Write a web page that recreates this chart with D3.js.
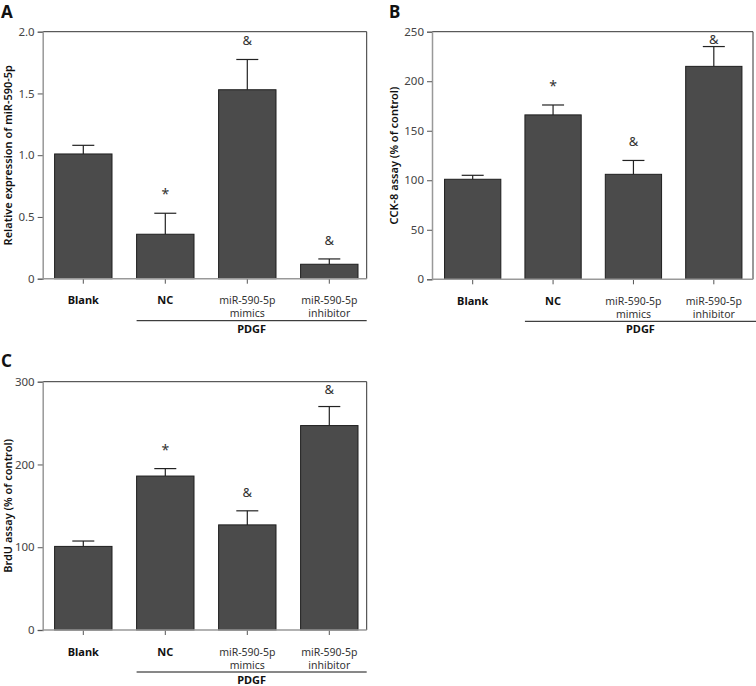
<!DOCTYPE html>
<html>
<head>
<meta charset="utf-8">
<script src="https://cdn.jsdelivr.net/npm/d3@7"></script>
<style>
  body { margin: 0; background: #fff; }
  svg { display: block; }
  text { font-family: "Noto Sans", "Open Sans", sans-serif; }
</style>
</head>
<body>
<svg id="chart" width="756" height="686"></svg>
<script>
// ---- data ----
const categories = ["Blank", "NC", "miR-590-5p mimics", "miR-590-5p inhibitor"];
const categoryLines = [["Blank"], ["NC"], ["miR-590-5p", "mimics"], ["miR-590-5p", "inhibitor"]];
const categoryBold = [true, true, false, false];
const groupLabel = "PDGF";

const aMeans = [1.01, 0.36, 1.53, 0.117];
const aErrors = [0.07, 0.17, 0.245, 0.043];
const aMarks = ["", "*", "&", "&"];
const aTicks = [0, 0.5, 1.0, 1.5, 2.0];
const aTickLabels = ["0", "0.5", "1.0", "1.5", "2.0"];

const bMeans = [101, 166, 106, 215];
const bErrors = [4, 10, 14, 20];
const bMarks = ["", "*", "&", "&"];
const bTicks = [0, 50, 100, 150, 200, 250];
const bTickLabels = ["0", "50", "100", "150", "200", "250"];

const cMeans = [101, 186, 127, 247];
const cErrors = [6.5, 9, 17, 23];
const cMarks = ["", "*", "&", "&"];
const cTicks = [0, 100, 200, 300];
const cTickLabels = ["0", "100", "200", "300"];

const svg = d3.select("#chart");

function panel(cfg) {
  const g = svg.append("g");
  const y = d3.scaleLinear().domain([0, cfg.ticks[cfg.ticks.length - 1]]).range([cfg.bottom, cfg.top]);
  const x = d3.scaleBand().domain(categories).range(cfg.xRange).paddingInner(0.3).paddingOuter(0.15);
  const data = categories.map((c, i) => ({ c, v: cfg.means[i], e: cfg.errors[i], m: cfg.marks[i], i }));

  // panel letter
  g.append("text").attr("x", cfg.letterX).attr("y", cfg.letterY)
    .attr("font-size", 17).attr("font-weight", "bold").attr("fill", "#111").text(cfg.letter);

  // frame top / right
  g.append("line").attr("x1", cfg.left).attr("x2", cfg.right).attr("y1", cfg.top).attr("y2", cfg.top)
    .attr("stroke", "#333").attr("stroke-width", 1);
  g.append("line").attr("x1", cfg.right).attr("x2", cfg.right).attr("y1", cfg.top).attr("y2", cfg.bottom)
    .attr("stroke", "#333").attr("stroke-width", 1);

  // error bars
  const cap = 11;
  data.forEach(d => {
    const cx = x(d.c) + x.bandwidth() / 2;
    g.append("line").attr("x1", cx).attr("x2", cx).attr("y1", y(d.v)).attr("y2", y(d.v + d.e))
      .attr("stroke", "#222").attr("stroke-width", 1.2);
    g.append("line").attr("x1", cx - cap).attr("x2", cx + cap).attr("y1", y(d.v + d.e)).attr("y2", y(d.v + d.e))
      .attr("stroke", "#222").attr("stroke-width", 1.2);
  });

  // bars
  g.selectAll("rect.bar").data(data).enter().append("rect")
    .attr("class", "bar")
    .attr("x", d => x(d.c)).attr("width", x.bandwidth())
    .attr("y", d => y(d.v)).attr("height", d => cfg.bottom - y(d.v))
    .attr("fill", "#4b4b4b").attr("stroke", "#1e1e1e").attr("stroke-width", 1);

  // significance marks
  data.forEach(d => {
    if (!d.m) return;
    const cx = x(d.c) + x.bandwidth() / 2;
    const by = Math.max(y(d.v + d.e) - 14, cfg.top + 12);
    g.append("text").attr("x", cx).attr("y", by).attr("text-anchor", "middle")
      .attr("font-size", d.m === "*" ? 14 : 13).attr("fill", "#333").text(d.m);
  });

  // y axis
  const yAxis = d3.axisLeft(y).tickValues(cfg.ticks).tickFormat((t, i) => cfg.tickLabels[i]).tickSize(5).tickPadding(3);
  const ya = g.append("g").attr("transform", `translate(${cfg.left},0)`).call(yAxis);
  ya.select(".domain").attr("stroke", "#999").attr("stroke-width", 1.5);
  ya.selectAll(".tick line").attr("stroke", "#555");
  ya.selectAll(".tick text").attr("font-size", 11.5).attr("fill", "#444")
    .attr("font-family", "'Noto Sans', sans-serif");

  // x axis
  const xAxis = d3.axisBottom(x).tickSize(5).tickFormat("");
  const xa = g.append("g").attr("transform", `translate(0,${cfg.bottom})`).call(xAxis);
  xa.select(".domain").remove();
  xa.selectAll(".tick line").attr("stroke", "#555");
  g.append("line").attr("x1", cfg.left).attr("x2", cfg.right).attr("y1", cfg.bottom).attr("y2", cfg.bottom)
    .attr("stroke", "#999").attr("stroke-width", 1.5);

  // category labels (one text per category, lines as tspans)
  categoryLines.forEach((lines, i) => {
    const cx = x(categories[i]) + x.bandwidth() / 2;
    const t = g.append("text").attr("x", cx).attr("y", cfg.bottom + 25.5)
      .attr("text-anchor", "middle").attr("font-size", categoryBold[i] ? 11 : 10.5)
      .attr("font-weight", categoryBold[i] ? "bold" : "normal")
      .attr("fill", categoryBold[i] ? "#111" : "#333");
    lines.forEach((ln, j) => {
      t.append("tspan").attr("x", cx).attr("dy", j === 0 ? 0 : 13).text(ln);
    });
  });

  // PDGF group line
  const gx1 = x(categories[1]);
  const gx2 = cfg.groupEnd;
  g.append("line").attr("x1", gx1).attr("x2", gx2).attr("y1", cfg.bottom + 42).attr("y2", cfg.bottom + 42)
    .attr("stroke", "#111").attr("stroke-width", 1);
  g.append("text").attr("x", (gx1 + gx2) / 2).attr("y", cfg.bottom + 54).attr("text-anchor", "middle")
    .attr("font-size", 11).attr("font-weight", "bold").attr("fill", "#111").text(groupLabel);

  // y title
  g.append("text").attr("transform", `translate(${cfg.titleX},${(cfg.top + cfg.bottom) / 2}) rotate(-90)`)
    .attr("text-anchor", "middle").attr("font-size", 11).attr("font-weight", 600).attr("fill", "#111")
    .text(cfg.title);
}

panel({ letter: "A", letterX: 1, letterY: 18, left: 42.7, right: 366.7, top: 31.7, bottom: 278.7,
  xRange: [42.3, 370.3], groupEnd: 366.7, titleX: 12,
  means: aMeans, errors: aErrors, marks: aMarks, ticks: aTicks, tickLabels: aTickLabels,
  title: "Relative expression of miR-590-5p" });

panel({ letter: "B", letterX: 389, letterY: 18, left: 432, right: 753, top: 31.7, bottom: 279.3,
  xRange: [432.5, 754], groupEnd: 756, titleX: 398,
  means: bMeans, errors: bErrors, marks: bMarks, ticks: bTicks, tickLabels: bTickLabels,
  title: "CCK-8 assay (% of control)" });

panel({ letter: "C", letterX: 1, letterY: 367, left: 42.7, right: 366.7, top: 381.7, bottom: 630,
  xRange: [42.3, 370.3], groupEnd: 366.7, titleX: 12,
  means: cMeans, errors: cErrors, marks: cMarks, ticks: cTicks, tickLabels: cTickLabels,
  title: "BrdU assay (% of control)" });
</script>
</body>
</html>
